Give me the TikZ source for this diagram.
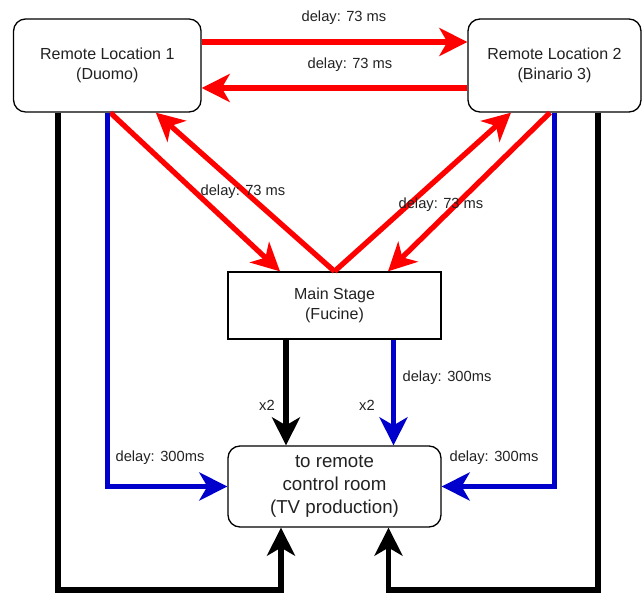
\documentclass[tikz,border=0pt]{standalone}
\usepackage{fontspec}
\setmainfont{Liberation Sans}
\usetikzlibrary{arrows.meta}
\definecolor{myblue}{HTML}{0000CC}
\definecolor{txt}{HTML}{222222}
\begin{document}
\begin{tikzpicture}[x=1pt,y=-1pt,
  box/.style={draw, line width=1.3pt, fill=white, align=center, inner sep=0pt, text=txt,
    font=\fontsize{16}{19.5}\selectfont},
  rbox/.style={box, rounded corners=12pt},
  lbl/.style={font=\fontsize{14.7}{17.6}\selectfont, inner sep=0pt, text=txt},
  conn/.style={line width=5.3pt, -{Stealth[length=28pt,width=28pt,inset=8pt]}},
  plain/.style={line width=5.3pt},
  redc/.style={conn, red},
  bluec/.style={conn, myblue},
  blkc/.style={conn, black}
]
\useasboundingbox (0,0) rectangle (643,593);

\node[rbox, minimum width=187.5pt, minimum height=93pt] (rl1) at (107.3,65.5) {Remote Location 1\\(Duomo)};
\node[rbox, minimum width=173pt, minimum height=93pt] (rl2) at (554.5,65.5) {Remote Location 2\\(Binario 3)};
\node[box, minimum width=213pt, minimum height=67pt] (main) at (334.5,305.5) {Main Stage\\(Fucine)};
\node[rbox, minimum width=213pt, minimum height=81pt, font=\fontsize{18.7}{23}\selectfont] (ctrl) at (334.5,486.5) {to remote\\control room\\(TV production)};

% red connectors
\draw[redc] ([yshift=23.5pt]rl1.east) -- ([yshift=23.5pt]rl2.west);
\draw[redc] ([yshift=-22.5pt]rl2.west) -- ([yshift=-22.5pt]rl1.east);
\draw[redc] ([xshift=3pt]rl1.south) -- ([xshift=-54.5pt]main.north);
\draw[redc] (main.north) -- ([xshift=48.5pt]rl1.south);
\draw[redc] (main.north) -- ([xshift=-43.5pt]rl2.south);
\draw[redc] ([xshift=-4.5pt]rl2.south) -- ([xshift=53.5pt]main.north);

% black outer connectors
\coordinate (bl) at (58,590);
\coordinate (br) at (598,590);
\draw[blkc] (bl |- rl1.south) -- (bl) -| ([xshift=-53.5pt]ctrl.south);
\draw[blkc] (br |- rl2.south) -- (br) -| ([xshift=54pt]ctrl.south);

% blue outer connectors
\draw[bluec] (rl1.south) |- (ctrl.west);
\draw[bluec] (rl2.south) |- (ctrl.east);

% main stage to control room
\draw[blkc] ([xshift=-48.5pt]main.south) -- ([xshift=-48.5pt]ctrl.north);
\draw[bluec] ([xshift=59pt]main.south) -- ([xshift=59pt]ctrl.north);

% labels
\node[lbl] (l1) at (344,18) {delay: 73 ms};
\node[lbl] (l2) at (350,65) {delay: 73 ms};
\node[lbl] (l3) at (243,192) {delay: 73 ms};
\node[lbl] (l4) at (441,205) {delay: 73 ms};
\node[lbl] (l5) at (160,458) {delay: 300ms};
\node[lbl] (l6) at (494,458) {delay: 300ms};
\node[lbl] (l7) at (447,378) {delay: 300ms};
\node[lbl] (l8) at (267,405) {x2};
\node[lbl] (l9) at (367,405) {x2};
\end{tikzpicture}
\end{document}
